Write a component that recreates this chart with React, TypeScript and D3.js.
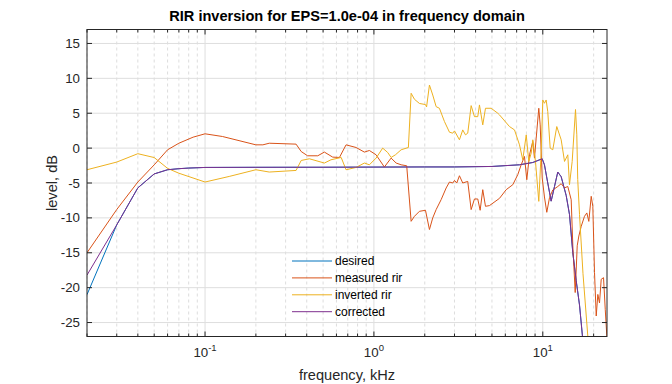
import React from "react";
import { scaleLog, scaleLinear, line } from "d3";

const width = 672;
const height = 384;
const box = { left: 87, right: 607, top: 29.5, bottom: 336.5 };

const title = "RIR inversion for EPS=1.0e-04 in frequency domain";
const seriesNames = ["desired", "measured rir", "inverted rir", "corrected"];
const seriesColors = ["#0072BD", "#D95319", "#EDB120", "#7E2F8E"];
const yTicks = [-25, -20, -15, -10, -5, 0, 5, 10, 15];
const xMajor = [0.1, 1, 10];
const xMajorExp = ["-1", "0", "1"];

// measured room impulse response, kHz / dB
const measuredFreq = [
  0.02, 0.03, 0.04, 0.05, 0.06, 0.07, 0.085, 0.1, 0.127, 0.2, 0.22, 0.24, 0.346, 0.371, 0.405, 0.465,
  0.509, 0.57, 0.625, 0.684, 0.784, 0.878, 0.94, 1.03, 1.153, 1.264, 1.354, 1.449, 1.564, 1.661,
  1.738, 1.86, 2.02, 2.132, 2.23, 2.336, 2.5, 2.678, 2.802, 2.93, 3.0, 3.094, 3.21, 3.357, 3.594,
  3.765, 3.939, 4.12, 4.257, 4.411, 4.577, 4.834, 5.541, 6.069, 6.645, 7.11, 7.447, 7.79, 8.039,
  8.341, 8.727, 8.929, 9.139, 9.469, 9.65, 9.92, 10.23, 10.56, 10.96, 11.46, 12.27, 12.85, 13.45,
  14.06, 14.73, 15.06, 15.56, 15.99, 16.35, 16.89, 17.66, 18.23, 18.73, 19.35, 19.78, 20.24, 20.72,
  21.18, 21.67, 22.18, 22.89, 23.43, 24.0,
];
const measuredDb = [
  -15.0, -8.8, -4.86, -2.4, -0.24, 0.7, 1.57, 2.05, 1.66, 0.47, 0.47, 0.7, 0.57, -0.49, -1.1, -1.1,
  -0.57, -1.29, -1.34, 0.47, 0.09, -0.57, -0.34, -0.96, -2.71, -1.43, -2.14, -2.39, -2.53, -10.49,
  -9.77, -9.06, -8.91, -11.67, -10.0, -8.81, -7.39, -5.71, -4.86, -5.0, -4.63, -5.0, -3.96, -5.0, -4.77,
  -8.81, -7.29, -7.29, -8.91, -5.96, -8.34, -8.24, -7.2, -5.96, -5.24, -3.81, -2.39, -1.2, -4.53,
  -0.96, 0.94, -1.43, 1.43, 5.71, 3.33, -4.28, -7.0, -9.2, -7.1, -6.0, -5.5, -5.1, -5.7,
  -5.5, -7.4, -14.0, -20.7, -14.0, -12.6, -11.2, -9.77, -9.29, -10.5, -6.91, -8.34, -17.8, -24.06,
  -20.97, -22.2, -18.8, -18.57, -23.1, -27.4,
];

// inverse filter
const invertedFreq = [
  0.02, 0.03, 0.04, 0.05, 0.06, 0.07, 0.1, 0.139, 0.2, 0.24, 0.346, 0.371, 0.415, 0.509, 0.557, 0.64,
  0.684, 0.784, 0.878, 0.94, 1.03, 1.127, 1.207, 1.264, 1.341, 1.449, 1.6, 1.661, 1.738, 1.86, 2.02,
  2.05, 2.132, 2.23, 2.336, 2.443, 2.617, 2.802, 2.93, 3.0, 3.21, 3.357, 3.484, 3.594, 3.765, 3.939,
  4.12, 4.217, 4.411, 4.577, 4.947, 5.413, 5.541, 6.35, 6.798, 7.278, 7.61, 7.98, 8.261, 8.537, 8.727,
  9.05, 9.469, 9.784, 10.0, 10.23, 10.47, 10.7, 11.06, 11.46, 12.1, 12.85, 13.45, 14.06, 14.39, 14.93,
  15.62, 15.9, 16.1, 16.5, 17.3, 18.48, 19.0,
];
const invertedDb = [
  -3.1, -2.0, -0.8, -1.35, -2.9, -3.6, -4.86, -4.06, -3.1, -3.43, -3.2, -1.77, -1.53, -2.14, -1.67, -1.34,
  -3.1, -2.77, -2.14, -2.39, -1.43, 0.0, -0.63, -1.34, -0.96, -0.24, 0.09, 7.86, 7.0, 6.4, 6.24,
  5.9, 9.04, 7.61, 5.94, 5.71, 3.8, 2.28, 2.14, 2.47, 1.19, 2.61, 1.9, 2.14, 6.09, 4.51,
  4.51, 6.19, 3.33, 5.71, 5.71, 5.0, 4.76, 3.09, 2.61, 0.47, -1.67, 1.9, -1.91, -0.72, 1.19,
  -1.91, -7.63, -0.49, 6.9, 6.43, 6.9, 5.23, 0.0, -0.24, 3.09, 1.19, -1.91, -0.96, -5.24, -1.91,
  5.53, 1.9, -4.5, -9.53, -18.0, -27.0, -30.0,
];

// equalised result; the target lies under it except at the lowest bin
const correctedFreq = [
  0.02, 0.03, 0.04, 0.05, 0.06, 0.07, 0.08, 0.1, 0.2, 0.5, 1, 2, 3, 5, 7.28, 8.73, 9.92, 10.23, 10.7,
  11.21, 11.73, 12.27, 12.85, 13.76, 14.39, 15.06, 15.77, 16.5, 17.26,
];
const correctedDb = [
  -18.2, -11.0, -5.7, -3.7, -3.1, -2.95, -2.86, -2.77, -2.75, -2.74, -2.72, -2.7, -2.7, -2.63, -2.39,
  -2.06, -1.53, -2.39, -5.0, -7.6, -5.5, -3.43, -4.1, -6.8, -9.5, -15.0, -19.0, -22.5, -27.5,
];
const desiredDb = [-21.0, ...correctedDb.slice(1)];

const font = "'Liberation Sans', Arial, Helvetica, sans-serif";
const axisColor = "#262626";

export default function App() {
  const x = scaleLog().domain([0.02, 24]).range([box.left, box.right]);
  const y = scaleLinear().domain([-27, 17]).range([box.bottom, box.top]);

  const xMinor = x.ticks().filter((t) => !xMajor.some((m) => Math.abs(m - t) < 1e-9));

  const path = line<[number, number]>()
    .x((d) => x(d[0]))
    .y((d) => y(d[1]));

  const zip = (f: number[], v: number[]) => f.map((d, i) => [d, v[i]] as [number, number]);
  const series = [
    zip(correctedFreq, desiredDb),
    zip(measuredFreq, measuredDb),
    zip(invertedFreq, invertedDb),
    zip(correctedFreq, correctedDb),
  ];

  const legendX = 292;
  const legendY = 261;
  const legendStep = 16.9;

  return (
    <svg
      width={width}
      height={height}
      viewBox={`0 0 ${width} ${height}`}
      style={{ position: "absolute", left: 0, top: 0, background: "white" }}
      fontFamily={font}
    >
      <defs>
        <clipPath id="plot">
          <rect x={box.left} y={box.top} width={box.right - box.left} height={box.bottom - box.top} />
        </clipPath>
      </defs>

      {/* grid */}
      {xMinor.map((t) => (
        <line
          key={"mg" + t}
          x1={x(t)}
          x2={x(t)}
          y1={box.top}
          y2={box.bottom}
          stroke="#d4d4d4"
          strokeDasharray="3,3"
          strokeWidth={0.8}
        />
      ))}
      {xMajor.map((t) => (
        <line key={"xg" + t} x1={x(t)} x2={x(t)} y1={box.top} y2={box.bottom} stroke="#dedede" />
      ))}
      {yTicks.map((t) => (
        <line key={"yg" + t} x1={box.left} x2={box.right} y1={y(t)} y2={y(t)} stroke="#dedede" />
      ))}

      {/* curves */}
      <g clipPath="url(#plot)" fill="none" strokeWidth={1}>
        {series.map((s, i) => (
          <path key={i} d={path(s) ?? ""} stroke={seriesColors[i]} strokeLinejoin="round" />
        ))}
      </g>

      {/* axes box and ticks */}
      <rect
        x={box.left}
        y={box.top}
        width={box.right - box.left}
        height={box.bottom - box.top}
        fill="none"
        stroke={axisColor}
        strokeWidth={1}
      />
      {yTicks.map((t) => (
        <g key={"yt" + t}>
          <line x1={box.left} x2={box.left + 5} y1={y(t)} y2={y(t)} stroke={axisColor} />
          <line x1={box.right} x2={box.right - 5} y1={y(t)} y2={y(t)} stroke={axisColor} />
          <text
            x={box.left - 7}
            y={y(t)}
            textAnchor="end"
            dominantBaseline="central"
            fontSize={13.3}
            fill={axisColor}
          >
            {t}
          </text>
        </g>
      ))}
      {xMinor.map((t) => (
        <g key={"xm" + t}>
          <line x1={x(t)} x2={x(t)} y1={box.bottom} y2={box.bottom - 3} stroke={axisColor} />
          <line x1={x(t)} x2={x(t)} y1={box.top} y2={box.top + 3} stroke={axisColor} />
        </g>
      ))}
      {xMajor.map((t, i) => (
        <g key={"xt" + t}>
          <line x1={x(t)} x2={x(t)} y1={box.bottom} y2={box.bottom - 5} stroke={axisColor} />
          <line x1={x(t)} x2={x(t)} y1={box.top} y2={box.top + 5} stroke={axisColor} />
          <text x={x(t)} y={357} textAnchor="middle" fontSize={13.3} fill={axisColor}>
            10
            <tspan dy={-6} fontSize={9.5}>
              {xMajorExp[i]}
            </tspan>
          </text>
        </g>
      ))}

      {/* labels */}
      <text x={(box.left + box.right) / 2} y={21} textAnchor="middle" fontSize={14.6} fontWeight="bold" fill="#000">
        {title}
      </text>
      <text x={(box.left + box.right) / 2} y={380} textAnchor="middle" fontSize={14.6} fill={axisColor}>
        frequency, kHz
      </text>
      <text
        transform={`translate(${57}, ${(box.top + box.bottom) / 2}) rotate(-90)`}
        textAnchor="middle"
        fontSize={14.6}
        fill={axisColor}
      >
        level, dB
      </text>

      {/* legend */}
      {seriesNames.map((name, i) => (
        <g key={name}>
          <line
            x1={legendX}
            x2={legendX + 40}
            y1={legendY + i * legendStep}
            y2={legendY + i * legendStep}
            stroke={seriesColors[i]}
          />
          <text
            x={legendX + 43}
            y={legendY + i * legendStep}
            dominantBaseline="central"
            fontSize={12}
            fill="#000"
          >
            {name}
          </text>
        </g>
      ))}
    </svg>
  );
}
